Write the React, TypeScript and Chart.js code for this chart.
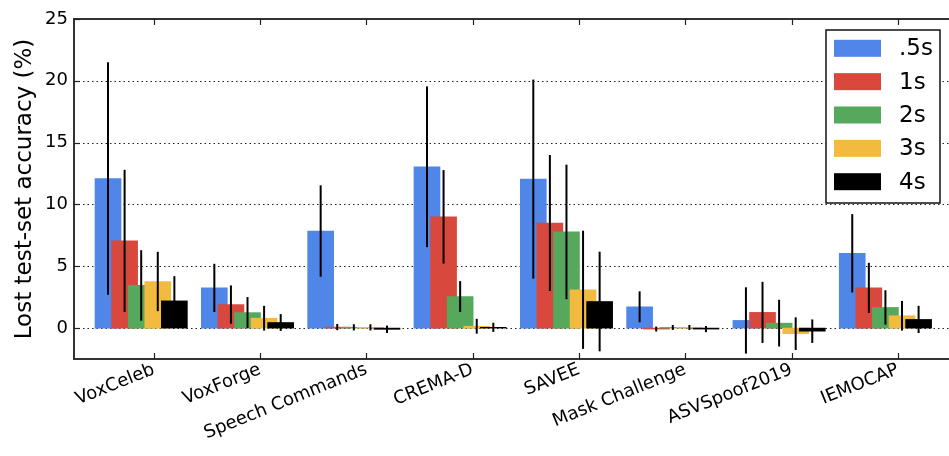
import React, { useEffect, useRef } from "react";
import { Chart, registerables } from "chart.js";

Chart.register(...registerables);

const categories = [
  "VoxCeleb",
  "VoxForge",
  "Speech Commands",
  "CREMA-D",
  "SAVEE",
  "Mask Challenge",
  "ASVSpoof2019",
  "IEMOCAP",
];

const seriesLabels = [".5s", "1s", "2s", "3s", "4s"];

const values05 = [12.1, 3.25, 7.85, 13.05, 12.05, 1.72, 0.62, 6.05];
const values1 = [7.05, 1.9, 0.08, 9.0, 8.5, -0.08, 1.27, 3.25];
const values2 = [3.45, 1.25, 0.06, 2.55, 7.78, 0.05, 0.4, 1.67];
const values3 = [3.77, 0.8, 0.06, 0.15, 3.1, 0.05, -0.45, 1.0];
const values4 = [2.2, 0.45, -0.1, 0.06, 2.15, -0.08, -0.25, 0.7];

const errors05 = [9.4, 1.95, 3.7, 6.5, 8.05, 1.25, 2.68, 3.17];
const errors1 = [5.75, 1.55, 0.25, 3.78, 5.5, 0.2, 2.47, 2.03];
const errors2 = [2.85, 1.26, 0.25, 1.25, 5.44, 0.2, 1.89, 1.39];
const errors3 = [2.4, 1.0, 0.25, 0.6, 4.78, 0.2, 1.32, 1.2];
const errors4 = [2.0, 0.68, 0.3, 0.37, 4.03, 0.25, 0.95, 1.1];

const yTicks = [0, 5, 10, 15, 20, 25];

const seriesValues = [values05, values1, values2, values3, values4];
const seriesErrors = [errors05, errors1, errors2, errors3, errors4];
const seriesColors = ["#4F86E8", "#D9483C", "#56A85C", "#F3BA40", "#000000"];

const FONT = "'DejaVu Sans', 'Liberation Sans', sans-serif";

// bar layout inside each group (in category units)
const BAR_STEP = 0.156;
const FIRST_OFFSET = -0.43;

const framePlugin = {
  id: "frameAndExtras",
  beforeDatasetsDraw(chart: any) {
    const { ctx, chartArea } = chart;
    const y = chart.scales.y;
    ctx.save();
    ctx.strokeStyle = "#222";
    ctx.lineWidth = 1;
    ctx.setLineDash([1.5, 3]);
    yTicks.forEach((t) => {
      if (t >= y.max) return;
      const py = Math.round(y.getPixelForValue(t)) + 0.5;
      ctx.beginPath();
      ctx.moveTo(chartArea.left, py);
      ctx.lineTo(chartArea.right, py);
      ctx.stroke();
    });
    ctx.restore();
  },
  afterDatasetsDraw(chart: any) {
    const { ctx, chartArea } = chart;
    const x = chart.scales.x;
    const y = chart.scales.y;
    // error bars
    ctx.save();
    ctx.strokeStyle = "#000";
    ctx.lineWidth = 2;
    seriesErrors.forEach((errs, k) => {
      const meta = chart.getDatasetMeta(k);
      meta.data.forEach((bar: any, i: number) => {
        const v = seriesValues[k][i];
        const e = errs[i];
        const top = y.getPixelForValue(v + e);
        const bot = y.getPixelForValue(v - e);
        ctx.beginPath();
        ctx.moveTo(bar.x, top);
        ctx.lineTo(bar.x, bot);
        ctx.stroke();
      });
    });
    ctx.restore();

    // frame
    ctx.save();
    ctx.strokeStyle = "#333";
    ctx.lineWidth = 2;
    ctx.beginPath();
    ctx.moveTo(chartArea.right + 2, chartArea.top);
    ctx.lineTo(chartArea.left, chartArea.top);
    ctx.lineTo(chartArea.left, chartArea.bottom);
    ctx.lineTo(chartArea.right + 2, chartArea.bottom);
    ctx.stroke();
    // inward ticks
    ctx.lineWidth = 1.2;
    ctx.strokeStyle = "#222";
    categories.forEach((_, i) => {
      const px = Math.round(x.getPixelForValue(i)) + 0.5;
      ctx.beginPath();
      ctx.moveTo(px, chartArea.top);
      ctx.lineTo(px, chartArea.top + 6);
      ctx.moveTo(px, chartArea.bottom);
      ctx.lineTo(px, chartArea.bottom - 6);
      ctx.stroke();
    });
    yTicks.forEach((t) => {
      const py = Math.round(y.getPixelForValue(t)) + 0.5;
      ctx.beginPath();
      ctx.moveTo(chartArea.left, py);
      ctx.lineTo(chartArea.left + 6, py);
      ctx.stroke();
    });
    ctx.restore();
  },
  afterDraw(chart: any) {
    const { ctx } = chart;
    // legend box
    const bx = 826;
    const by = 30;
    const bw = 114;
    const bh = 173;
    ctx.save();
    ctx.fillStyle = "#fff";
    ctx.fillRect(bx, by, bw, bh);
    ctx.strokeStyle = "#111";
    ctx.lineWidth = 1.5;
    ctx.strokeRect(bx, by, bw, bh);
    ctx.font = `23px ${FONT}`;
    ctx.textBaseline = "middle";
    ctx.textAlign = "left";
    seriesLabels.forEach((lab, k) => {
      const cy = by + 18.3 + k * 33.35;
      ctx.fillStyle = seriesColors[k];
      ctx.fillRect(bx + 8, cy - 8.5, 47, 17);
      ctx.fillStyle = "#000";
      ctx.fillText(lab, bx + 73, cy + 1);
    });
    ctx.restore();
  },
};

export default function App() {
  const canvasRef = useRef<HTMLCanvasElement | null>(null);

  useEffect(() => {
    document.body.style.margin = "0";
    const canvas = canvasRef.current;
    if (!canvas) return;
    Chart.defaults.font.family = FONT;
    Chart.defaults.color = "#000";

    const datasets = seriesLabels.map((lab, k) => ({
      label: lab,
      data: seriesValues[k].map((v, i) => ({ x: i + FIRST_OFFSET + k * BAR_STEP, y: v })),
      backgroundColor: seriesColors[k],
      borderWidth: 0,
      barThickness: 26,
      grouped: false,
      order: seriesLabels.length - 1 - k,
    }));

    const chart = new Chart(canvas, {
      type: "bar",
      data: { datasets },
      options: {
        animation: false,
        responsive: false,
        maintainAspectRatio: false,
        layout: { padding: { top: 19, right: 0, left: 0, bottom: 0 } },
        plugins: {
          legend: { display: false },
          tooltip: { enabled: false },
        },
        scales: {
          x: {
            type: "linear",
            min: -0.75,
            max: 7.48,
            offset: false,
            grid: { display: false, drawTicks: false },
            border: { display: false },
            afterBuildTicks: (s: any) => {
              s.ticks = categories.map((_, i) => ({ value: i }));
            },
            afterFit: (s: any) => {
              s.height = 97;
            },
            ticks: {
              autoSkip: false,
              minRotation: 22,
              maxRotation: 22,
              padding: 0,
              font: { size: 18 },
              color: "#000",
              callback: (v: any) => categories[v] ?? "",
            },
          },
          y: {
            type: "linear",
            min: -2.5,
            max: 25,
            grid: { display: false, drawTicks: false },
            border: { display: false },
            afterBuildTicks: (s: any) => {
              s.ticks = yTicks.map((v) => ({ value: v }));
            },
            afterFit: (s: any) => {
              s.width = 74;
            },
            ticks: {
              padding: 6,
              font: { size: 18 },
              color: "#000",
            },
            title: {
              display: true,
              text: "Lost test-set accuracy (%)",
              font: { size: 23 },
              color: "#000",
              padding: { top: 11, bottom: 0 },
            },
          },
        },
      },
      plugins: [framePlugin],
    });

    return () => {
      chart.destroy();
    };
  }, []);

  return (
    <div style={{ position: "fixed", left: 0, top: 0, width: 949, height: 456, overflow: "hidden", background: "#fff" }}>
      <canvas ref={canvasRef} width={949} height={456} style={{ display: "block" }} />
    </div>
  );
}
